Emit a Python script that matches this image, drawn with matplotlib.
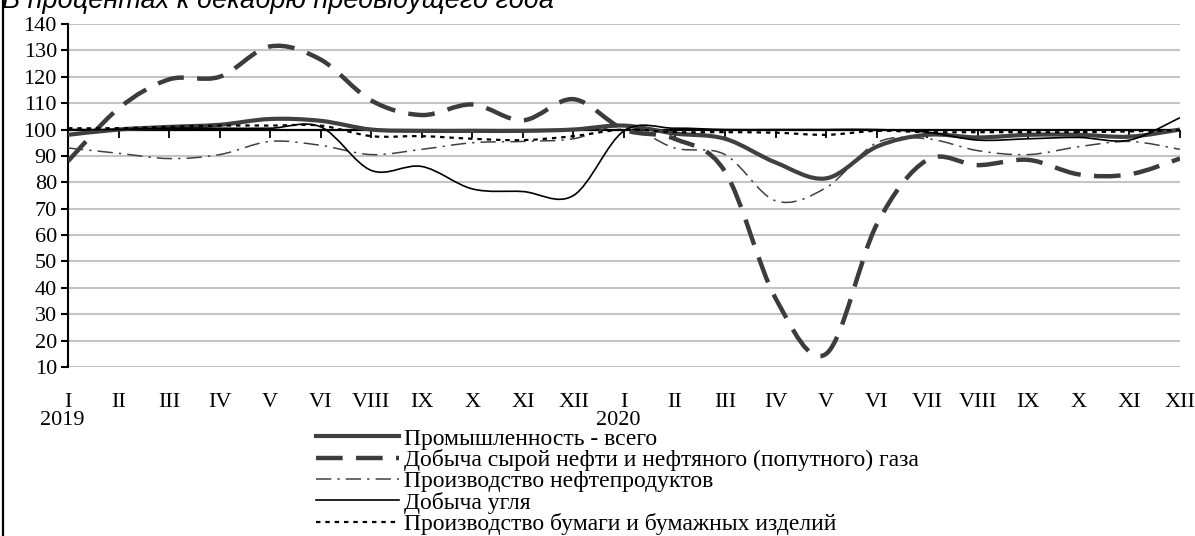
import matplotlib
matplotlib.use("Agg")
import matplotlib.pyplot as plt
from matplotlib.path import Path
from matplotlib.patches import PathPatch
from matplotlib.lines import Line2D

months = ["I", "II", "III", "IV", "V", "VI", "VIII", "IX", "X", "XI", "XII",
          "I", "II", "III", "IV", "V", "VI", "VII", "VIII", "IX", "X", "XI", "XII"]
years = ["2019", "2020"]
year_pos = [0, 11]

industry = [98, 100, 101, 101.8, 104, 103.3, 100, 99.5, 99.5, 99.5, 100,
            101.5, 98.5, 96.5, 87.5, 81.5, 93.5, 98, 97, 98, 98, 97.3, 100]
oil = [88, 108, 119, 120, 131.5, 126.5, 111, 105.5, 109.5, 103.5, 111.5,
       100, 96.5, 84, 36, 15, 64, 88.5, 86.5, 88.5, 83, 83, 89]
products = [93, 91, 89, 90.5, 95.5, 94, 90.5, 92.5, 95, 95.5, 96.5,
            101.5, 93, 90.5, 73, 78, 95, 96.5, 92, 90.5, 93.5, 95.5, 92.5]
coal = [100, 100, 100.5, 100.5, 100.5, 101, 84.5, 86, 77.5, 76.5, 75,
        99.5, 100.5, 100, 100, 100, 100, 99, 96, 96.5, 97, 96, 104.5]
paper = [100.5, 100.5, 101, 101.5, 101.5, 101.5, 97.5, 97.5, 96.5, 96, 97.5,
         100, 99, 99, 98.8, 98, 99.5, 99, 99, 99, 99, 99.3, 99.8]

labels = ["Промышленность - всего",
          "Добыча сырой нефти и нефтяного (попутного) газа",
          "Производство нефтепродуктов",
          "Добыча угля",
          "Производство бумаги и бумажных изделий"]

styles = [
    dict(color="#404040", lw=3.0, ls="-"),
    dict(color="#3c3c3c", lw=3.2, ls=(0, (6, 3))),
    dict(color="#404040", lw=1.1, ls=(0, (10, 4, 1.5, 4))),
    dict(color="black", lw=1.2, ls="-"),
    dict(color="black", lw=1.6, ls=(0, (2, 2.2))),
]


def smooth_path(xs, ys):
    # excel-like smoothed line: bezier segments through the points
    n = len(xs)
    verts = [(xs[0], ys[0])]
    codes = [Path.MOVETO]
    for i in range(n - 1):
        a = i - 1 if i > 0 else i
        d = i + 2 if i + 2 < n else i + 1
        c1 = (xs[i] + (xs[i + 1] - xs[a]) / 6, ys[i] + (ys[i + 1] - ys[a]) / 6)
        c2 = (xs[i + 1] - (xs[d] - xs[i]) / 6, ys[i + 1] - (ys[d] - ys[i]) / 6)
        verts += [c1, c2, (xs[i + 1], ys[i + 1])]
        codes += [Path.CURVE4] * 3
    return Path(verts, codes)


fig = plt.figure(figsize=(11.95, 5.36), dpi=100)
ax = fig.add_axes([68 / 1195, 1 - 367 / 536, 1112 / 1195, 343 / 536])

x = list(range(len(months)))
ax.set_xlim(0, len(months) - 1)
ax.set_ylim(10, 140)
ax.set_yticks(range(10, 141, 10))
ax.grid(axis="y", color="#c4c4c4", lw=1.5)
ax.set_axisbelow(True)
for s in ["top", "right", "bottom"]:
    ax.spines[s].set_visible(False)
ax.spines["left"].set_linewidth(1.5)
ax.tick_params(axis="y", length=5, width=1.5, labelsize=16, pad=3)
ax.set_xticks(x)
ax.set_xticklabels(months)
ax.tick_params(axis="x", length=0, labelsize=16, pad=19)
for t in ax.get_xticklabels() + ax.get_yticklabels():
    t.set_fontfamily("Liberation Serif")

# axis crossing at 100
ax.axhline(100, color="black", lw=1.6, zorder=1.5)
ax.plot(x, [100] * len(x), ls="none", marker=3, ms=6, mew=1.3, color="black", zorder=1.5)

series = [industry, oil, products, coal, paper]
handles = []
for vals, st, lab in zip(series, styles, labels):
    p = PathPatch(smooth_path(x, vals), fill=False, edgecolor=st["color"],
                  lw=st["lw"], ls=st["ls"], zorder=3, capstyle="butt")
    ax.add_patch(p)
    handles.append(Line2D([], [], color=st["color"], lw=st["lw"], ls=st["ls"]))

for yr, pos in zip(years, year_pos):
    ax.text(pos - 0.12, -0.155, yr, transform=ax.get_xaxis_transform(),
            ha="center", va="center", fontsize=16, family="Liberation Serif")

leg = fig.legend(handles, labels, loc="upper left",
                 bbox_to_anchor=(316 / 1195, 1 - 428 / 536),
                 frameon=False, prop={"family": "Liberation Serif", "size": 17},
                 handlelength=3.5, handletextpad=0.22, labelspacing=-0.02,
                 borderpad=0, borderaxespad=0)

fig.text(2 / 1195, 1 - 7.5 / 536, "В процентах к декабрю предыдущего года",
         ha="left", va="baseline", fontsize=19.5, style="italic",
         family="Liberation Sans")

fig.add_artist(Line2D([2.5 / 1195, 2.5 / 1195], [0, 1], color="black", lw=1.6))

fig.savefig("out.png", dpi=100)
